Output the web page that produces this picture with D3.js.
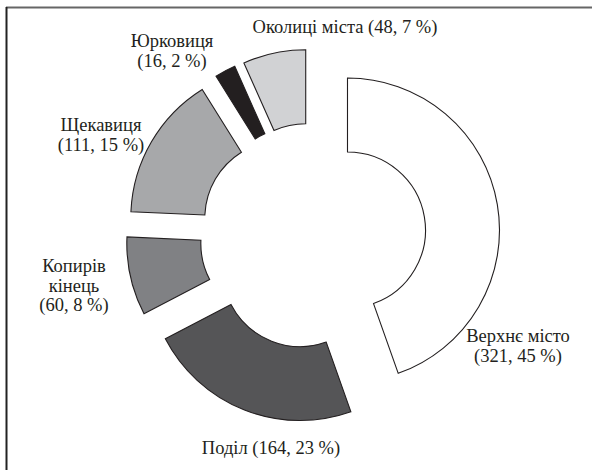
<!DOCTYPE html>
<html>
<head>
<meta charset="utf-8">
<script src="https://cdn.jsdelivr.net/npm/d3@7/dist/d3.min.js"></script>
<style>
  html, body { margin: 0; padding: 0; background: #fff; }
  svg { display: block; }
</style>
</head>
<body>
<svg id="chart" width="592" height="470"></svg>
<script>
// Data
const categories = ["Верхнє місто", "Поділ", "Копирів кінець", "Щекавиця", "Юрковиця", "Околиці міста"];
const values = [321, 164, 60, 111, 16, 48];
const percents = [45, 23, 8, 15, 2, 7];
const colors = ["#ffffff", "#555557", "#808184", "#a7a8aa", "#231f20", "#d1d2d4"];
// label lines per category
const labelLines = [
  ["Верхнє місто", "(321, 45 %)"],
  ["Поділ (164, 23 %)"],
  ["Копирів", "кінець", "(60, 8 %)"],
  ["Щекавиця", "(111, 15 %)"],
  ["Юрковиця", "(16, 2 %)"],
  ["Околиці міста (48, 7 %)"]
];
const labelPos = [[518, 342], [271, 454], [74, 272], [101, 131], [172, 47], [345, 33]];

const svg = d3.select("#chart");
const W = 592, H = 470;

// frame (top and left visible)
svg.append("line").attr("x1", 6).attr("x2", W).attr("y1", 7.5).attr("y2", 7.5)
  .attr("stroke", "#666").attr("stroke-width", 2);
svg.append("line").attr("x1", 6.5).attr("x2", 6.5).attr("y1", 7).attr("y2", H)
  .attr("stroke", "#222").attr("stroke-width", 2);

const cx = 313, cy = 236;
const rInner = 78, rOuter = 152, explode = 35;

const pie = d3.pie().sort(null).value(d => d.value).startAngle(0).endAngle(2 * Math.PI);
const arc = d3.arc().innerRadius(rInner).outerRadius(rOuter);

const data = categories.map((c, i) => ({ name: c, value: values[i], color: colors[i] }));
const arcs = pie(data);

const g = svg.append("g").attr("transform", `translate(${cx},${cy})`);
g.selectAll("path").data(arcs).join("path")
  .attr("d", arc)
  .attr("transform", d => {
    const a = (d.startAngle + d.endAngle) / 2;
    return `translate(${explode * Math.sin(a)},${-explode * Math.cos(a)})`;
  })
  .attr("fill", d => d.data.color)
  .attr("stroke", "#231f20")
  .attr("stroke-width", 1.1)
  .attr("stroke-linejoin", "miter");

// labels: one text element per line
labelLines.forEach((lines, i) => {
  lines.forEach((ln, j) => {
    svg.append("text")
      .attr("x", labelPos[i][0])
      .attr("y", labelPos[i][1] + j * 19.5)
      .attr("text-anchor", "middle")
      .attr("font-family", "Liberation Serif")
      .attr("font-size", 18.5)
      .attr("fill", "#231f20")
      .style("font-family", '"Liberation Serif"')
      .style("font-size", "18.5px")
      .text(ln);
  });
});
</script>
</body>
</html>
